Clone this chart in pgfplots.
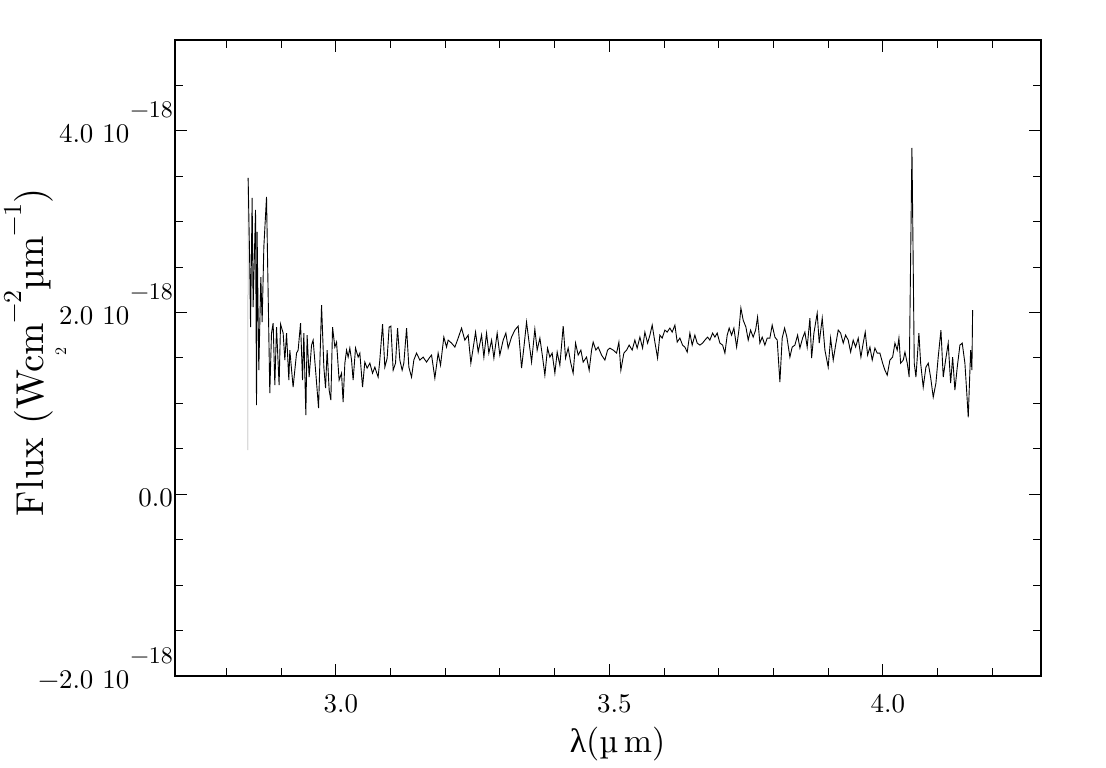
\documentclass[border=0pt]{standalone}
\usepackage{fontspec}
\setmainfont{lmroman10-regular.otf}
\usepackage{pgfplots}
\pgfplotsset{compat=1.18}
\newfontfamily\gk{Liberation Serif}
\newcommand\ex[1]{\raisebox{25bp}{\fontsize{24}{24}\selectfont #1}}
\newcommand\tl[2]{#1 10\kern1bp\ex{#2}}
\newcommand\supx[1]{\raisebox{22bp}{\fontsize{26}{26}\selectfont #1}}
\begin{document}
\begin{tikzpicture}
\path[use as bounding box] (-175bp,-92bp) rectangle (931bp,676bp);
\begin{axis}[at={(0,0)}, anchor=south west, scale only axis,
  width=866bp, height=636bp,
  xmin=2.706, xmax=4.289, ymin=-2, ymax=5,
  xtick={3.0,3.5,4.0}, xticklabels={3.0,3.5,4.0},
  minor xtick={2.8,2.9,3.1,3.2,3.3,3.4,3.6,3.7,3.8,3.9,4.1,4.2},
  ytick={-2,0,2,4},
  yticklabels={{\tl{−2.0}{−18}},{0.0\hspace{40bp}},{\tl{2.0}{−18}},{\tl{4.0}{−18}}},
  minor ytick={-1.5,-1,-0.5,0.5,1,1.5,2.5,3,3.5,4.5},
  tick align=inside, major tick length=12bp, minor tick length=8bp,
  axis line style={line width=1.2bp},
  tick style={line width=1bp, black},
  xticklabel style={font=\fontsize{27}{27}\selectfont, anchor=base, inner sep=0pt, yshift=-36bp, xshift=5bp},
  yticklabel style={font=\fontsize{27}{27}\selectfont, anchor=base east, inner sep=0pt, xshift=-2bp, yshift=-12bp},
  xlabel={{\gk λ}(µ\,m)},
  xlabel style={font=\fontsize{34}{34}\selectfont, at={(axis description cs:0.511,-0.121)}, anchor=base, inner sep=0pt},
  ylabel={Flux (Wc\makebox[0pt][l]{\raisebox{-23bp}{\fontsize{16}{16}\selectfont 2}}m\supx{−2}µm\supx{−1})},
  ylabel style={font=\fontsize{39}{39}\selectfont, at={(axis description cs:-0.1524,0.5094)}, anchor=base, inner sep=0pt},
]
\addplot[black!40, line width=0.5bp, forget plot] table {
2.8391 0.485
2.8397 3.482
};
\addplot[black, line width=0.9bp] table {
2.8397 3.482
2.8428 2.468
2.8441 1.840
2.8470 3.262
2.8488 2.061
2.8532 3.129
2.8550 0.981
2.8561 2.887
2.8592 1.366
2.8629 2.391
2.8653 1.895
2.8684 2.722
2.8733 3.273
2.8793 1.113
2.8824 1.774
2.8854 1.884
2.8885 1.201
2.8916 1.840
2.8963 1.201
2.8989 1.873
2.9037 1.774
2.9068 1.477
2.9099 1.774
2.9141 1.256
2.9159 1.587
2.9219 1.179
2.9282 1.554
2.9311 1.587
2.9355 1.884
2.9391 1.256
2.9415 1.774
2.9452 0.871
2.9475 1.752
2.9512 1.289
2.9556 1.642
2.9585 1.697
2.9634 1.333
2.9684 0.948
2.9739 2.083
2.9781 1.399
2.9812 1.168
2.9841 1.587
2.9878 1.146
2.9909 1.036
2.9940 1.840
2.9982 1.620
3.0013 1.675
3.0060 1.256
3.0104 1.333
3.0133 1.014
3.0165 1.443
3.0196 1.587
3.0225 1.510
3.0256 1.609
3.0287 1.477
3.0316 1.256
3.0360 1.609
3.0408 1.510
3.0439 1.554
3.0488 1.179
3.0530 1.455
3.0572 1.388
3.0622 1.443
3.0671 1.333
3.0713 1.399
3.0773 1.289
3.0804 1.477
3.0854 1.873
3.0896 1.399
3.0938 1.499
3.0974 1.840
3.1006 1.851
3.1048 1.366
3.1091 1.443
3.1128 1.829
3.1170 1.477
3.1212 1.366
3.1243 1.443
3.1293 1.829
3.1335 1.399
3.1384 1.289
3.1426 1.477
3.1475 1.554
3.1536 1.477
3.1596 1.510
3.1658 1.455
3.1719 1.510
3.1750 1.532
3.1810 1.278
3.1870 1.554
3.1914 1.421
3.1974 1.730
3.2024 1.620
3.2053 1.697
3.2115 1.664
3.2176 1.620
3.2236 1.719
3.2298 1.829
3.2358 1.697
3.2419 1.752
3.2468 1.443
3.2510 1.609
3.2554 1.785
3.2602 1.565
3.2664 1.752
3.2706 1.510
3.2755 1.774
3.2797 1.554
3.2847 1.697
3.2889 1.499
3.2949 1.774
3.2998 1.532
3.3059 1.697
3.3108 1.774
3.3150 1.609
3.3212 1.730
3.3272 1.807
3.3333 1.851
3.3395 1.388
3.3442 1.642
3.3486 1.895
3.3534 1.664
3.3578 1.455
3.3638 1.818
3.3680 1.587
3.3730 1.719
3.3779 1.510
3.3821 1.311
3.3870 1.609
3.3912 1.510
3.3954 1.554
3.4004 1.333
3.4046 1.565
3.4095 1.421
3.4156 1.851
3.4199 1.499
3.4247 1.609
3.4291 1.455
3.4338 1.333
3.4382 1.664
3.4430 1.532
3.4479 1.587
3.4521 1.455
3.4583 1.510
3.4631 1.366
3.4675 1.587
3.4704 1.675
3.4753 1.587
3.4795 1.620
3.4858 1.532
3.4918 1.477
3.4967 1.587
3.5009 1.609
3.5070 1.587
3.5132 1.554
3.5174 1.675
3.5210 1.366
3.5265 1.554
3.5315 1.587
3.5362 1.642
3.5417 1.587
3.5466 1.697
3.5508 1.609
3.5558 1.730
3.5607 1.609
3.5649 1.785
3.5699 1.664
3.5741 1.752
3.5783 1.862
3.5832 1.675
3.5881 1.499
3.5923 1.752
3.5965 1.719
3.6015 1.807
3.6057 1.785
3.6106 1.829
3.6148 1.785
3.6198 1.862
3.6240 1.675
3.6289 1.719
3.6338 1.642
3.6380 1.620
3.6423 1.565
3.6472 1.774
3.6514 1.642
3.6563 1.752
3.6605 1.664
3.6655 1.642
3.6704 1.664
3.6746 1.697
3.6795 1.730
3.6837 1.697
3.6887 1.774
3.6929 1.730
3.6971 1.774
3.7020 1.664
3.7070 1.642
3.7112 1.554
3.7154 1.752
3.7190 1.829
3.7234 1.752
3.7276 1.829
3.7326 1.620
3.7368 1.807
3.7404 2.050
3.7446 1.917
3.7496 1.840
3.7538 1.697
3.7581 1.807
3.7629 1.730
3.7673 1.807
3.7709 1.950
3.7751 1.664
3.7794 1.730
3.7843 1.642
3.7885 1.719
3.7934 1.719
3.7976 1.862
3.8026 1.730
3.8068 1.697
3.8117 1.234
3.8159 1.719
3.8203 1.829
3.8245 1.730
3.8300 1.510
3.8342 1.620
3.8391 1.642
3.8441 1.752
3.8483 1.609
3.8532 1.719
3.8574 1.785
3.8616 1.620
3.8666 1.939
3.8697 1.499
3.8739 1.774
3.8799 1.994
3.8836 1.664
3.8891 1.939
3.8940 1.587
3.9000 1.399
3.9044 1.719
3.9092 1.477
3.9136 1.642
3.9183 1.807
3.9227 1.774
3.9275 1.664
3.9318 1.752
3.9366 1.697
3.9410 1.565
3.9457 1.697
3.9501 1.620
3.9549 1.719
3.9598 1.510
3.9640 1.664
3.9677 1.785
3.9721 1.532
3.9763 1.620
3.9805 1.477
3.9854 1.609
3.9896 1.554
3.9945 1.554
3.9995 1.443
4.0037 1.366
4.0079 1.311
4.0128 1.477
4.0178 1.510
4.0220 1.664
4.0262 1.587
4.0293 1.719
4.0324 1.443
4.0372 1.477
4.0403 1.565
4.0445 1.443
4.0481 1.289
4.0531 3.813
4.0573 1.443
4.0604 1.289
4.0658 1.774
4.0690 1.443
4.0737 1.179
4.0786 1.399
4.0829 1.443
4.0872 1.289
4.0920 1.069
4.0969 1.223
4.1011 1.510
4.1061 1.807
4.1103 1.289
4.1146 1.477
4.1194 1.664
4.1238 1.223
4.1275 1.510
4.1316 1.146
4.1359 1.399
4.1408 1.642
4.1450 1.664
4.1499 1.443
4.1530 1.146
4.1560 0.848
4.1604 1.587
4.1627 1.366
4.1640 2.028
};
\end{axis}
\end{tikzpicture}
\end{document}
